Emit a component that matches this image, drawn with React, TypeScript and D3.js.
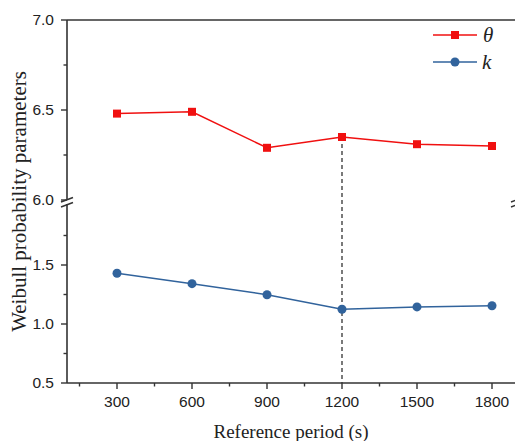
import React from "react";
import * as d3 from "d3";

const periods = [300, 600, 900, 1200, 1500, 1800];
const thetaValues = [6.48, 6.49, 6.29, 6.35, 6.31, 6.3];
const kValues = [1.43, 1.342, 1.248, 1.125, 1.145, 1.155];
const xTicks = [300, 600, 900, 1200, 1500, 1800];
const upperTicks = [6.0, 6.5, 7.0];
const lowerTicks = [0.5, 1.0, 1.5];
const markedPeriod = 1200;

const W = 515;
const H = 441;
const left = 67;
const right = 517;
const top = 20;
const upperBottom = 200;
const lowerTop = 206;
const bottom = 383;

const RED = "#f01010";
const BLUE = "#31639c";
const AXIS = "#333";

export default function App() {
  const x = d3.scaleLinear().domain([100, 1900]).range([left, right]);
  const yU = d3.scaleLinear().domain([6.0, 7.0]).range([upperBottom, top]);
  const yL = d3.scaleLinear().domain([0.5, 2.0]).range([bottom, lowerTop]);

  const lineU = d3
    .line<number>()
    .x((_, i) => x(periods[i]))
    .y((d) => yU(d));
  const lineL = d3
    .line<number>()
    .x((_, i) => x(periods[i]))
    .y((d) => yL(d));

  const xMinor = d3.range(150, 1900, 150).filter((v) => !xTicks.includes(v));
  const upperMinor = [6.25, 6.75];
  const lowerMinor = [0.75, 1.25, 1.75];

  const iMark = periods.indexOf(markedPeriod);
  const tickFont = "'Liberation Sans', Arial, sans-serif";
  const serif = "'Liberation Serif', 'Times New Roman', serif";
  const tickSize = 15.5;

  return (
    <svg
      width={W}
      height={H}
      style={{ position: "absolute", left: 0, top: 0, background: "#fff" }}
    >
      <rect x={0} y={0} width={W} height={H} fill="#fff" />
      {/* dashed marker line */}
      <line
        x1={x(markedPeriod)}
        x2={x(markedPeriod)}
        y1={yU(thetaValues[iMark])}
        y2={bottom}
        stroke="#222"
        strokeWidth={1.2}
        strokeDasharray="4,3"
      />
      {/* axes frame */}
      <line x1={left} x2={W} y1={top} y2={top} stroke={AXIS} strokeWidth={1.6} />
      <line x1={left} x2={W} y1={bottom} y2={bottom} stroke={AXIS} strokeWidth={1.6} />
      <line x1={left} x2={left} y1={top} y2={199} stroke={AXIS} strokeWidth={1.6} />
      <line x1={left} x2={left} y1={204} y2={bottom} stroke={AXIS} strokeWidth={1.6} />
      {/* break marks */}
      {[200, 205].map((yy, i) => (
        <line
          key={"bl" + i}
          x1={left - 6}
          x2={left + 6}
          y1={yy + 2}
          y2={yy - 2.5}
          stroke={AXIS}
          strokeWidth={1.6}
        />
      ))}
      {[200, 205].map((yy, i) => (
        <line
          key={"br" + i}
          x1={right - 6}
          x2={right + 6}
          y1={yy + 2}
          y2={yy - 2.5}
          stroke={AXIS}
          strokeWidth={1.6}
        />
      ))}
      {/* y ticks upper */}
      {upperTicks.map((t) => (
        <g key={"u" + t}>
          <line x1={left - 6} x2={left} y1={yU(t)} y2={yU(t)} stroke={AXIS} strokeWidth={1.4} />
          <text
            x={left - 13}
            y={yU(t)}
            dy="0.35em"
            textAnchor="end"
            fontFamily={tickFont}
            fontSize={tickSize}
            fill="#222"
          >
            {t.toFixed(1)}
          </text>
        </g>
      ))}
      {upperMinor.map((t) => (
        <line key={"um" + t} x1={left - 3.5} x2={left} y1={yU(t)} y2={yU(t)} stroke={AXIS} strokeWidth={1.4} />
      ))}
      {/* y ticks lower */}
      {lowerTicks.map((t) => (
        <g key={"l" + t}>
          <line x1={left - 6} x2={left} y1={yL(t)} y2={yL(t)} stroke={AXIS} strokeWidth={1.4} />
          <text
            x={left - 13}
            y={yL(t)}
            dy="0.35em"
            textAnchor="end"
            fontFamily={tickFont}
            fontSize={tickSize}
            fill="#222"
          >
            {t.toFixed(1)}
          </text>
        </g>
      ))}
      {lowerMinor.map((t) => (
        <line key={"lm" + t} x1={left - 3.5} x2={left} y1={yL(t)} y2={yL(t)} stroke={AXIS} strokeWidth={1.4} />
      ))}
      {/* x ticks */}
      {xTicks.map((t) => (
        <g key={"x" + t}>
          <line x1={x(t)} x2={x(t)} y1={bottom} y2={bottom + 6} stroke={AXIS} strokeWidth={1.4} />
          <text
            x={x(t)}
            y={bottom + 19}
            dy="0.35em"
            textAnchor="middle"
            fontFamily={tickFont}
            fontSize={tickSize}
            fill="#222"
          >
            {t}
          </text>
        </g>
      ))}
      {xMinor.map((t) => (
        <line key={"xm" + t} x1={x(t)} x2={x(t)} y1={bottom} y2={bottom + 3.5} stroke={AXIS} strokeWidth={1.4} />
      ))}
      {/* series */}
      <path d={lineU(thetaValues) || ""} fill="none" stroke={RED} strokeWidth={1.5} />
      {thetaValues.map((v, i) => (
        <rect key={"s" + i} x={x(periods[i]) - 4} y={yU(v) - 4} width={8} height={8} fill={RED} />
      ))}
      <path d={lineL(kValues) || ""} fill="none" stroke={BLUE} strokeWidth={1.5} />
      {kValues.map((v, i) => (
        <circle key={"c" + i} cx={x(periods[i])} cy={yL(v)} r={4.5} fill={BLUE} />
      ))}
      {/* legend */}
      <line x1={433} x2={477} y1={35} y2={35} stroke={RED} strokeWidth={1.5} />
      <rect x={451} y={31} width={8} height={8} fill={RED} />
      <text x={483} y={35} dy="0.35em" fontFamily={serif} fontStyle="italic" fontSize={21} fill="#222">
        θ
      </text>
      <line x1={433} x2={477} y1={62} y2={62} stroke={BLUE} strokeWidth={1.5} />
      <circle cx={455} cy={62} r={4.5} fill={BLUE} />
      <text x={482} y={62} dy="0.35em" fontFamily={serif} fontStyle="italic" fontSize={21} fill="#222">
        k
      </text>
      {/* axis titles */}
      <text
        x={291}
        y={431}
        dy="0.35em"
        textAnchor="middle"
        fontFamily={serif}
        fontSize={19}
        fill="#222"
      >
        Reference period (s)
      </text>
      <text
        transform={`translate(19,${(top + bottom) / 2}) rotate(-90)`}
        dy="0.35em"
        textAnchor="middle"
        fontFamily={serif}
        fontSize={21}
        fill="#222"
      >
        Weibull probability parameters
      </text>
    </svg>
  );
}
